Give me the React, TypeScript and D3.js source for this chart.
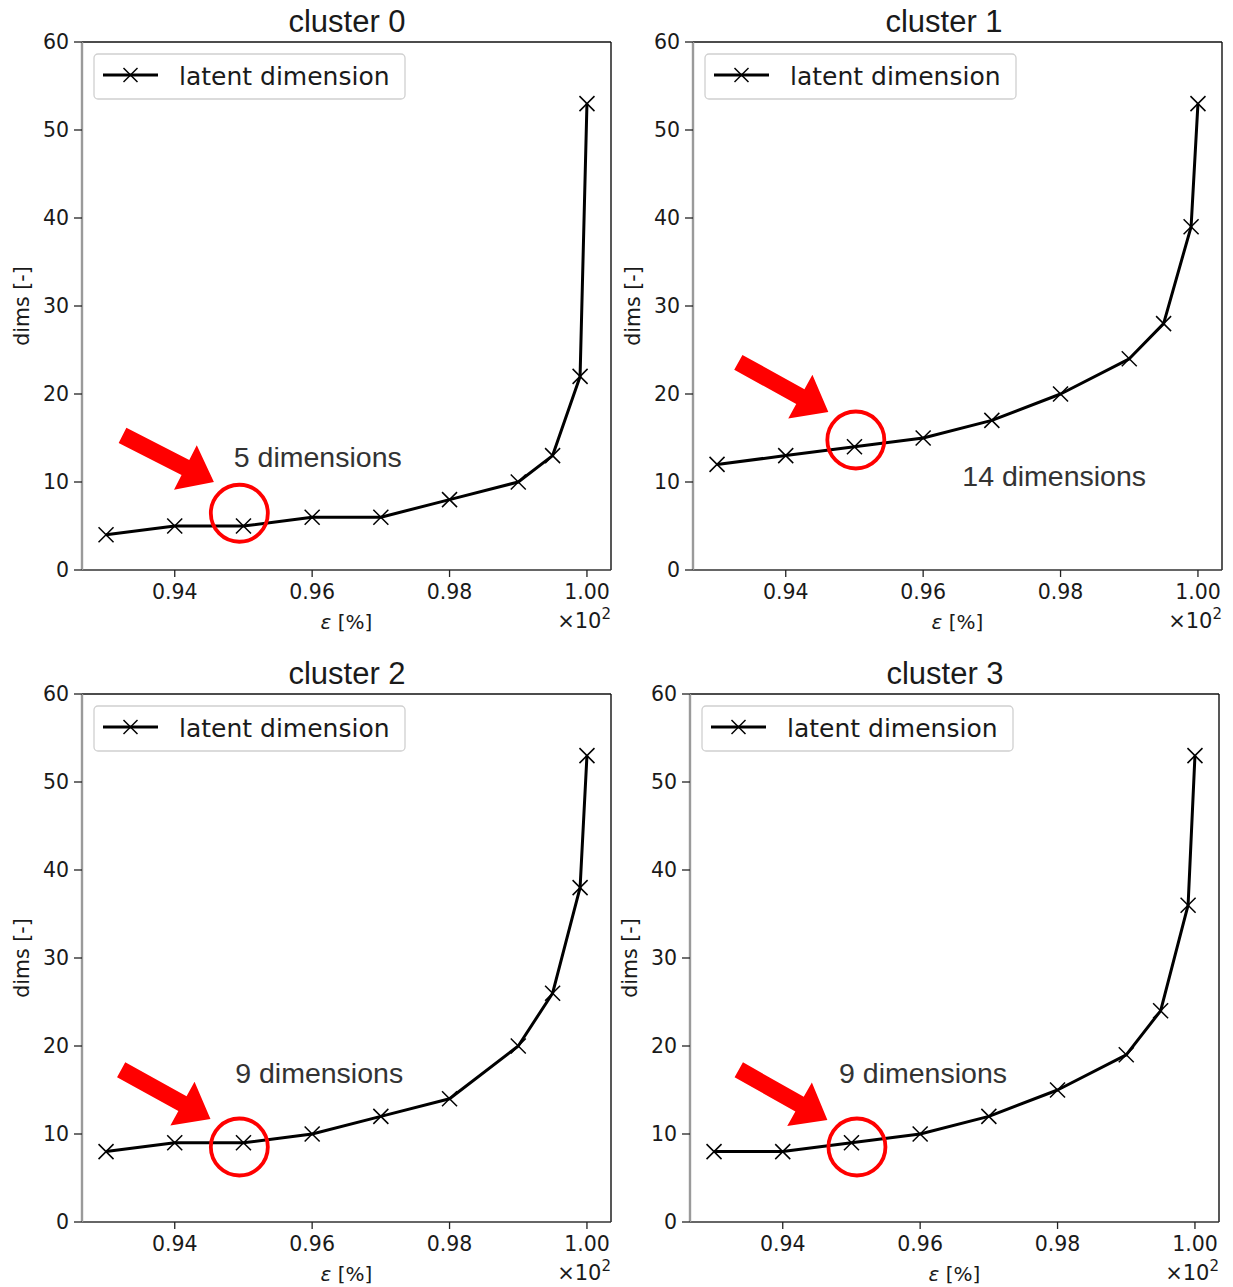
import React from "react";
import * as d3 from "d3";

const EPS = [0.93, 0.94, 0.95, 0.96, 0.97, 0.98, 0.99, 0.995, 0.999, 1.0];
const DIMS_C0 = [4, 5, 5, 6, 6, 8, 10, 13, 22, 53];
const DIMS_C1 = [12, 13, 14, 15, 17, 20, 24, 28, 39, 53];
const DIMS_C2 = [8, 9, 9, 10, 12, 14, 20, 26, 38, 53];
const DIMS_C3 = [8, 8, 9, 10, 12, 15, 19, 24, 36, 53];
const SERIES = [DIMS_C0, DIMS_C1, DIMS_C2, DIMS_C3];
const TITLES = ["cluster 0", "cluster 1", "cluster 2", "cluster 3"];

const X_TICKS = [0.94, 0.96, 0.98, 1.0];
const X_TICK_LABELS = ["0.94", "0.96", "0.98", "1.00"];
const Y_TICKS = [0, 10, 20, 30, 40, 50, 60];
const X_DOMAIN = [0.9265, 1.0035];
const Y_DOMAIN = [0, 60];

const LEGEND_LABEL = "latent dimension";
const X_LABEL_SYM = "ε";
const X_LABEL_REST = " [%]";
const Y_LABEL = "dims [-]";

const ANNOT_TEXT = ["5 dimensions", "14 dimensions", "9 dimensions", "9 dimensions"];
const ANNOT_X = [0.9486, 0.9657, 0.9488, 0.9482];
const ANNOT_Y = [11.7, 9.55, 15.8, 15.8];
const CIRCLE_X = [0.9494, 0.9502, 0.9494, 0.9508];
const CIRCLE_Y = [6.45, 14.77, 8.52, 8.52];
const ARROW_TAIL_X = [0.9324, 0.9331, 0.9322, 0.9336];
const ARROW_TAIL_Y = [15.3, 23.6, 17.3, 17.3];
const ARROW_TIP_X = [0.9457, 0.9462, 0.9452, 0.9465];
const ARROW_TIP_Y = [10.0, 17.95, 11.7, 11.6];

const PANELS = [
  { left: 82, top: 42, width: 529, height: 528, titleX: 347 },
  { left: 693, top: 42, width: 529, height: 528, titleX: 944 },
  { left: 82, top: 694, width: 529, height: 528, titleX: 347 },
  { left: 690, top: 694, width: 529, height: 528, titleX: 945 },
];

const SANS = "'DejaVu Sans', sans-serif";
const ARIAL = "'Liberation Sans', Arial, sans-serif";

function Cross({ x, y, s, w }: { x: number; y: number; s: number; w: number }) {
  return (
    <g stroke="#000" strokeWidth={w}>
      <line x1={x - s} y1={y - s} x2={x + s} y2={y + s} />
      <line x1={x - s} y1={y + s} x2={x + s} y2={y - s} />
    </g>
  );
}

function Panel({ idx }: { idx: number }) {
  const p = PANELS[idx];
  const x = d3.scaleLinear().domain(X_DOMAIN).range([p.left, p.left + p.width]);
  const y = d3.scaleLinear().domain(Y_DOMAIN).range([p.top + p.height, p.top]);
  const vals = SERIES[idx];
  const pts: [number, number][] = EPS.map((e, i) => [x(e), y(vals[i])]);
  const line = d3.line()(pts) || "";
  const bottom = p.top + p.height;
  const right = p.left + p.width;

  const tx = x(ARROW_TAIL_X[idx]);
  const ty = y(ARROW_TAIL_Y[idx]);
  const hx = x(ARROW_TIP_X[idx]);
  const hy = y(ARROW_TIP_Y[idx]);
  const len = Math.hypot(hx - tx, hy - ty);
  const ux = (hx - tx) / len;
  const uy = (hy - ty) / len;
  const nx = -uy;
  const ny = ux;
  const sw = 8.5;
  const hw = 25;
  const hl = 32;
  const bx = hx - ux * hl;
  const by = hy - uy * hl;
  const arrowPts = [
    [tx + nx * sw, ty + ny * sw],
    [bx + nx * sw, by + ny * sw],
    [bx + nx * hw, by + ny * hw],
    [hx, hy],
    [bx - nx * hw, by - ny * hw],
    [bx - nx * sw, by - ny * sw],
    [tx - nx * sw, ty - ny * sw],
  ]
    .map((q) => q.join(","))
    .join(" ");

  return (
    <g>
      <text x={p.titleX} y={p.top - 10} textAnchor="middle" fontFamily={ARIAL} fontSize={31} fill="#1a1a1a">
        {TITLES[idx]}
      </text>
      <line x1={p.left} y1={p.top} x2={right} y2={p.top} stroke="#111" strokeWidth={1.4} />
      <line x1={right} y1={p.top} x2={right} y2={bottom} stroke="#111" strokeWidth={1.4} />
      <line x1={p.left} y1={bottom} x2={right} y2={bottom} stroke="#333" strokeWidth={1.6} />
      <line x1={p.left} y1={p.top} x2={p.left} y2={bottom} stroke="#9a9a9a" strokeWidth={2.4} />
      {Y_TICKS.map((t) => (
        <g key={"y" + t}>
          <line x1={p.left - 8} x2={p.left} y1={y(t)} y2={y(t)} stroke="#222" strokeWidth={1.3} />
          <text x={p.left - 13} y={y(t)} dy="0.36em" textAnchor="end" fontFamily={SANS} fontSize={20.5} fill="#1a1a1a">
            {t}
          </text>
        </g>
      ))}
      {X_TICKS.map((t, i) => (
        <g key={"x" + t}>
          <line x1={x(t)} x2={x(t)} y1={bottom} y2={bottom + 7} stroke="#222" strokeWidth={1.3} />
          <text x={x(t)} y={bottom + 29} textAnchor="middle" fontFamily={SANS} fontSize={20.5} fill="#1a1a1a">
            {X_TICK_LABELS[i]}
          </text>
        </g>
      ))}
      <text x={p.left + p.width / 2} y={bottom + 59} textAnchor="middle" fontFamily={SANS} fontSize={20} fill="#1a1a1a">
        <tspan fontStyle="italic">{X_LABEL_SYM}</tspan>
        {X_LABEL_REST}
      </text>
      <text x={right} y={bottom + 58} textAnchor="end" fontFamily={SANS} fontSize={21} fill="#1a1a1a">
        ×10
        <tspan fontSize={15} dy={-9}>
          2
        </tspan>
      </text>
      <text
        transform={`translate(${p.left - 60},${p.top + p.height / 2}) rotate(-90)`}
        textAnchor="middle"
        dy="0.35em"
        fontFamily={SANS}
        fontSize={20.5}
        fill="#1a1a1a"
      >
        {Y_LABEL}
      </text>
      <rect x={p.left + 12} y={p.top + 12} width={311} height={45} rx={4} fill="#fff" stroke="#d0d0d0" strokeWidth={1.3} />
      <line x1={p.left + 21} x2={p.left + 76} y1={p.top + 33} y2={p.top + 33} stroke="#000" strokeWidth={2.8} />
      <Cross x={p.left + 48.5} y={p.top + 33} s={7} w={1.5} />
      <text x={p.left + 97} y={p.top + 43} fontFamily={SANS} fontSize={25} fill="#1a1a1a">
        {LEGEND_LABEL}
      </text>
      <path d={line} fill="none" stroke="#000" strokeWidth={3} strokeLinejoin="round" />
      {pts.map((q, i) => (
        <Cross key={i} x={q[0]} y={q[1]} s={7.5} w={1.5} />
      ))}
      <text x={x(ANNOT_X[idx])} y={y(ANNOT_Y[idx])} fontFamily={ARIAL} fontSize={28.5} fill="#333">
        {ANNOT_TEXT[idx]}
      </text>
      <circle cx={x(CIRCLE_X[idx])} cy={y(CIRCLE_Y[idx])} r={28.5} fill="none" stroke="#f00" strokeWidth={3.8} />
      <polygon points={arrowPts} fill="#f00" />
    </g>
  );
}

export default function App() {
  return (
    <svg
      width={1233}
      height={1287}
      style={{ position: "absolute", left: 0, top: 0, background: "#fff", display: "block" }}
    >
      <rect width={1233} height={1287} fill="#fff" />
      {PANELS.map((_, i) => (
        <Panel key={i} idx={i} />
      ))}
    </svg>
  );
}
